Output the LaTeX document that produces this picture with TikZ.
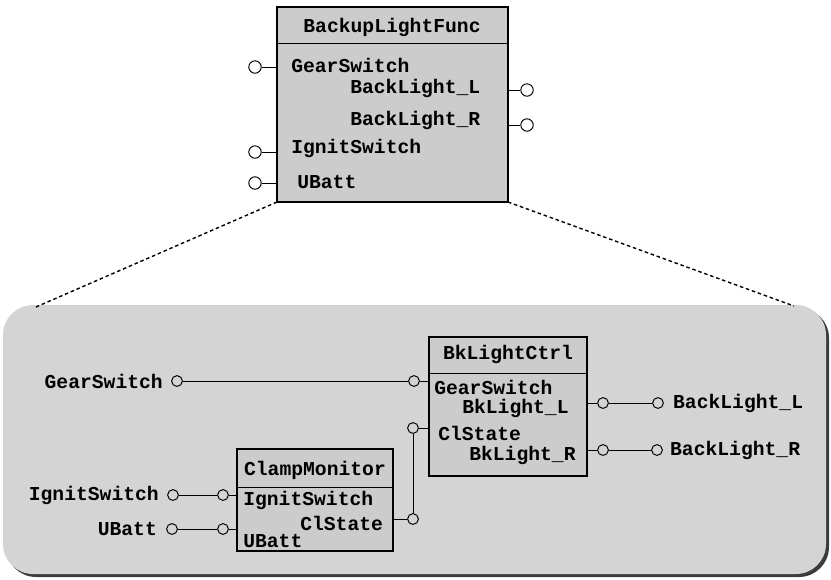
\documentclass[tikz,border=0pt]{standalone}
\usepackage{fontspec}
\setmonofont{Liberation Mono}
\usetikzlibrary{positioning}
\definecolor{panelgray}{RGB}{212,212,212}
\definecolor{boxgray}{RGB}{204,204,204}
\definecolor{shadowgray}{RGB}{60,60,60}
\tikzset{
  lbl/.style={font=\ttfamily\bfseries\fontsize{14}{16}\selectfont, inner sep=0pt},
  pin/.style={circle, draw, fill=panelgray, line width=0.7pt, inner sep=0pt, minimum size=0.27cm},
  bigpin/.style={pin, fill=white, minimum size=0.31cm},
  wire/.style={line width=0.7pt},
  blockbox/.style={draw, fill=boxgray, line width=0.8pt},
  zoomline/.style={line width=1pt, dash pattern=on 2.5pt off 2pt},
}
\begin{document}
\begin{tikzpicture}[x=0.025cm, y=-0.025cm]
  \useasboundingbox (0,0) rectangle (831,580);
  % panel with shadow
  \fill[shadowgray, rounded corners=0.75cm] (6,308) rectangle (829,577);
  \fill[panelgray, rounded corners=0.75cm] (3,305) rectangle (826,574);

  % top block
  \draw[blockbox] (277,7) coordinate (tnw) rectangle (508,202) coordinate (tse);
  \draw[wire] (277,43) -- (508,43);
  \node[lbl] (tname) at (392,27) {BackupLightFunc};
  \node[lbl, anchor=west] (tgear) at (291,65) {GearSwitch};
  \node[lbl, anchor=west] (tbl) at (350,88) {BackLight\_L};
  \node[lbl, anchor=west] (tbr) at (350,120) {BackLight\_R};
  \node[lbl, anchor=west] (tign) at (291,148) {IgnitSwitch};
  \node[lbl, anchor=west] (tub) at (297,182) {UBatt};
  \node[bigpin] (tpg) at (255,67) {};
  \node[bigpin] (tpi) at (255,152) {};
  \node[bigpin] (tpu) at (255,183) {};
  \node[bigpin] (tpl) at (527,90) {};
  \node[bigpin] (tpr) at (527,125) {};
  \draw[wire] (tpg) -- (tpg -| tnw);
  \draw[wire] (tpi) -- (tpi -| tnw);
  \draw[wire] (tpu) -- (tpu -| tnw);
  \draw[wire] (tpl) -- (tpl -| tse);
  \draw[wire] (tpr) -- (tpr -| tse);

  % zoom lines
  \coordinate (zl) at (36,307);
  \coordinate (zr) at (794,306);
  \draw[zoomline] (tnw |- tse) -- (zl);
  \draw[zoomline] (tse) -- (zr);

  % BkLightCtrl
  \draw[blockbox] (429,337) coordinate (bnw) rectangle (587,476) coordinate (bse);
  \draw[wire] (429,373) -- (587,373);
  \node[lbl] (bname) at (508,354) {BkLightCtrl};
  \node[lbl, anchor=west] (bgear) at (434,387) {GearSwitch};
  \node[lbl, anchor=west] (bbl) at (462,408) {BkLight\_L};
  \node[lbl, anchor=west] (bcl) at (438,433) {ClState};
  \node[lbl, anchor=west] (bbr) at (469,455) {BkLight\_R};
  \node[pin] (bpg) at (414,381) {};
  \node[pin] (bpc) at (413,428) {};
  \node[pin] (bpl) at (603,403) {};
  \node[pin] (bpr) at (603,450) {};
  \draw[wire] (bpg) -- (bpg -| bnw);
  \draw[wire] (bpc) -- (bpc -| bnw);
  \draw[wire] (bpl) -- (bpl -| bse);
  \draw[wire] (bpr) -- (bpr -| bse);

  % ClampMonitor
  \draw[blockbox] (237,449) coordinate (cnw) rectangle (393,551) coordinate (cse);
  \draw[wire] (237,487) -- (393,487);
  \node[lbl] (cname) at (315,470) {ClampMonitor};
  \node[lbl, anchor=west] (cign) at (243,500) {IgnitSwitch};
  \node[lbl, anchor=west] (ccl) at (300,523) {ClState};
  \node[lbl, anchor=west] (cub) at (243,541) {UBatt};
  \node[pin] (cpi) at (223,495) {};
  \node[pin] (cpu) at (223,529) {};
  \node[pin] (cpc) at (413,519) {};
  \draw[wire] (cpi) -- (cpi -| cnw);
  \draw[wire] (cpu) -- (cpu -| cnw);
  \draw[wire] (cpc) -- (cpc -| cse);

  % outer ports
  \node[pin] (og) at (177,381) {};
  \node[pin] (oi) at (173,495) {};
  \node[pin] (ou) at (172,529) {};
  \node[pin] (obl) at (658,403) {};
  \node[pin] (obr) at (657,450) {};
  \node[lbl, left=8 of og] (ogl) {GearSwitch};
  \node[lbl, left=8 of oi] (oil) {IgnitSwitch};
  \node[lbl, left=9 of ou] (oul) {UBatt};
  \node[lbl, right=9 of obl] (obll) {BackLight\_L};
  \node[lbl, right=7 of obr] (obrl) {BackLight\_R};

  % wiring
  \draw[wire] (og) -- (bpg);
  \draw[wire] (oi) -- (cpi);
  \draw[wire] (ou) -- (cpu);
  \draw[wire] (cpc) -- (bpc);
  \draw[wire] (bpl) -- (obl);
  \draw[wire] (bpr) -- (obr);
\end{tikzpicture}
\end{document}
